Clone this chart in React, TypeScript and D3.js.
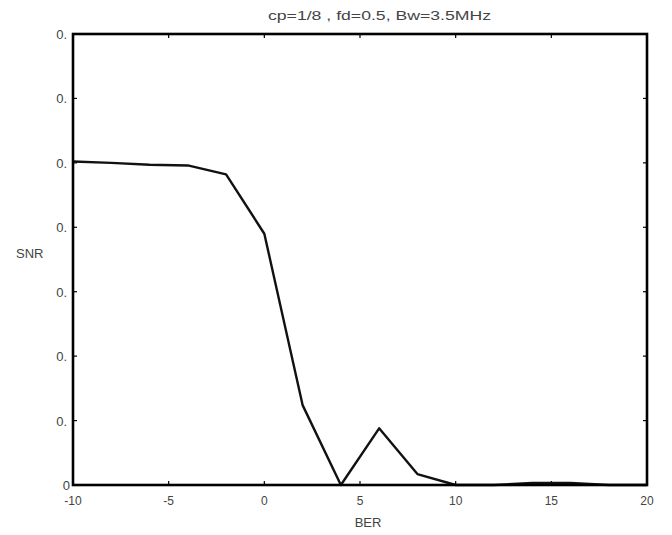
import React, { useEffect, useRef } from 'react';
import * as d3 from 'd3';

const berValues = [-10, -8, -6, -4, -2, 0, 2, 4, 6, 8, 10, 12, 14, 16, 18, 20];
const snrValues = [0.502, 0.5, 0.497, 0.496, 0.482, 0.39, 0.124, 0, 0.088, 0.017, 0, 0, 0.003, 0.003, 0, 0];
const xTicks = [-10, -5, 0, 5, 10, 15, 20];
const xTickLabels = ['-10', '-5', '0', '5', '10', '15', '20'];
const yTicks = [0, 0.1, 0.2, 0.3, 0.4, 0.5, 0.6, 0.7];
const yTickLabels = ['0', '0.', '0.', '0.', '0.', '0.', '0.', '0.'];

const App = () => {
  const svgRef = useRef<SVGSVGElement>(null);
  const svgWidth = 672;
  const svgHeight = 535;
  const margin = { top: 34, right: 25, bottom: 50, left: 73 };
  const width = svgWidth - margin.left - margin.right;
  const height = svgHeight - margin.top - margin.bottom;

  useEffect(() => {
    const svg = d3.select(svgRef.current);
    svg.selectAll('*').remove();

    const x = d3.scaleLinear().domain([-10, 20]).range([0, width]);
    const y = d3.scaleLinear().domain([0, 0.7]).range([height, 0]);

    const g = svg.append('g')
      .attr('transform', `translate(${margin.left},${margin.top})`);

    const font = 'Arial, "Liberation Sans", sans-serif';
    const textColor = '#444';

    // inward ticks on all four sides, like a matlab box
    xTicks.forEach(t => {
      g.append('line').attr('x1', x(t)).attr('x2', x(t)).attr('y1', height).attr('y2', height - 4)
        .attr('stroke', '#000').attr('stroke-width', 1.2);
      g.append('line').attr('x1', x(t)).attr('x2', x(t)).attr('y1', 0).attr('y2', 4)
        .attr('stroke', '#000').attr('stroke-width', 1.2);
    });
    yTicks.forEach(t => {
      g.append('line').attr('x1', 0).attr('x2', 4).attr('y1', y(t)).attr('y2', y(t))
        .attr('stroke', '#000').attr('stroke-width', 1.2);
      g.append('line').attr('x1', width).attr('x2', width - 4).attr('y1', y(t)).attr('y2', y(t))
        .attr('stroke', '#000').attr('stroke-width', 1.2);
    });

    const line = d3.line<number>()
      .x((d, i) => x(berValues[i]))
      .y(d => y(d));

    g.append('path')
      .datum(snrValues)
      .attr('d', line)
      .attr('fill', 'none')
      .attr('stroke', '#111')
      .attr('stroke-width', 2.4)
      .attr('stroke-linejoin', 'round');

    g.append('rect')
      .attr('width', width)
      .attr('height', height)
      .attr('fill', 'none')
      .attr('stroke', '#000')
      .attr('stroke-width', 2.6);

    xTicks.forEach((t, i) => {
      g.append('text')
        .attr('x', x(t))
        .attr('y', height + 20)
        .attr('text-anchor', 'middle')
        .attr('font-family', font)
        .attr('font-size', 12)
        .attr('fill', textColor)
        .text(xTickLabels[i]);
    });
    yTicks.forEach((t, i) => {
      g.append('text')
        .attr('x', i === 0 ? -3 : -6)
        .attr('y', y(t) + 5)
        .attr('text-anchor', 'end')
        .attr('font-family', font)
        .attr('font-size', 13)
        .attr('fill', textColor)
        .text(yTickLabels[i]);
    });

    svg.append('text')
      .attr('x', 268)
      .attr('y', 20)
      .attr('font-family', font)
      .attr('font-size', 12)
      .attr('fill', textColor)
      .attr('textLength', 223)
      .attr('lengthAdjust', 'spacingAndGlyphs')
      .text('cp=1/8 , fd=0.5, Bw=3.5MHz');

    svg.append('text')
      .attr('x', 368)
      .attr('y', 527)
      .attr('text-anchor', 'middle')
      .attr('font-family', font)
      .attr('font-size', 13)
      .attr('fill', textColor)
      .text('BER');

    svg.append('text')
      .attr('x', 16)
      .attr('y', 258)
      .attr('font-family', font)
      .attr('font-size', 13)
      .attr('fill', textColor)
      .text('SNR');
  }, [height, width, margin.left, margin.top]);

  return (
    <svg ref={svgRef} width={svgWidth} height={svgHeight}
      style={{ position: 'absolute', left: 0, top: 0, background: '#fff' }} />
  );
};

export default App;
